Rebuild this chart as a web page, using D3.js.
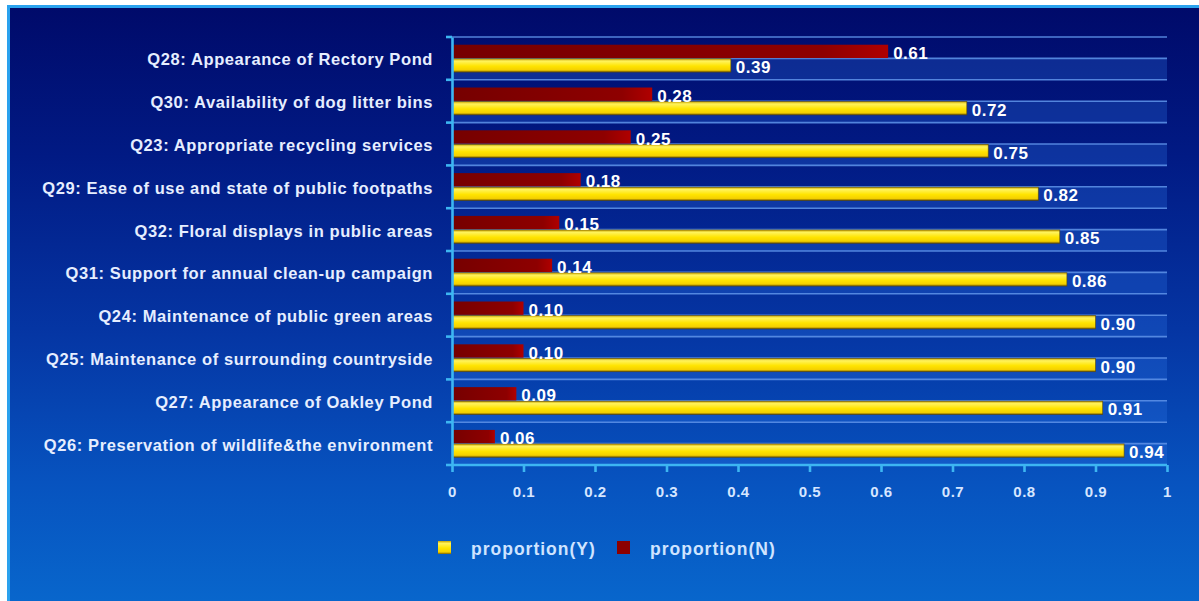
<!DOCTYPE html>
<html>
<head>
<meta charset="utf-8">
<script src="https://cdn.jsdelivr.net/npm/d3@7/dist/d3.min.js"></script>
<style>
  html, body { margin: 0; padding: 0; background: #ffffff; }
  svg { display: block; }
</style>
</head>
<body>
<svg id="chart" width="1199" height="601"></svg>
<script>
// Survey questions, top to bottom
const categories = [
  "Q28: Appearance of Rectory Pond",
  "Q30: Availability of dog litter bins",
  "Q23: Appropriate recycling services",
  "Q29: Ease of use and state of public footpaths",
  "Q32: Floral displays in public areas",
  "Q31: Support for annual clean-up campaign",
  "Q24: Maintenance of public green areas",
  "Q25: Maintenance of surrounding countryside",
  "Q27: Appearance of Oakley Pond",
  "Q26: Preservation of wildlife&the environment"
];
const proportionY = [0.39, 0.72, 0.75, 0.82, 0.85, 0.86, 0.90, 0.90, 0.91, 0.94];
const proportionN = [0.61, 0.28, 0.25, 0.18, 0.15, 0.14, 0.10, 0.10, 0.09, 0.06];
const xTicks = [0, 0.1, 0.2, 0.3, 0.4, 0.5, 0.6, 0.7, 0.8, 0.9, 1];
const seriesNames = ["proportion(Y)", "proportion(N)"];

const rows = categories.map((c, i) => ({ cat: c, Y: proportionY[i], N: proportionN[i] }));

const svg = d3.select("#chart");
const W = 1199, H = 601;
const font = "'Liberation Sans', Arial, sans-serif";

// ---- gradients ----
const defs = svg.append("defs");
const bg = defs.append("linearGradient").attr("id", "bg").attr("x1", 0).attr("y1", 0).attr("x2", 0).attr("y2", 1);
bg.append("stop").attr("offset", "0%").attr("stop-color", "#000a6a");
bg.append("stop").attr("offset", "25%").attr("stop-color", "#011a84");
bg.append("stop").attr("offset", "55%").attr("stop-color", "#0536a4");
bg.append("stop").attr("offset", "80%").attr("stop-color", "#0753bf");
bg.append("stop").attr("offset", "100%").attr("stop-color", "#0866cc");

const gy = defs.append("linearGradient").attr("id", "gy").attr("x1", 0).attr("y1", 0).attr("x2", 0).attr("y2", 1);
gy.append("stop").attr("offset", "0%").attr("stop-color", "#c9a400");
gy.append("stop").attr("offset", "18%").attr("stop-color", "#fff35c");
gy.append("stop").attr("offset", "55%").attr("stop-color", "#ffe400");
gy.append("stop").attr("offset", "85%").attr("stop-color", "#f4d000");
gy.append("stop").attr("offset", "100%").attr("stop-color", "#7d6200");

const gn = defs.append("linearGradient").attr("id", "gn").attr("x1", 0).attr("y1", 0).attr("x2", 1).attr("y2", 0);
gn.append("stop").attr("offset", "0%").attr("stop-color", "#760000");
gn.append("stop").attr("offset", "85%").attr("stop-color", "#8e0000");
gn.append("stop").attr("offset", "100%").attr("stop-color", "#b00000");

// ---- panel and frame ----
svg.append("rect").attr("x", 0).attr("y", 0).attr("width", W).attr("height", H).attr("fill", "#ffffff");
svg.append("rect").attr("x", 7).attr("y", 5).attr("width", W - 7).attr("height", H - 5).attr("fill", "#2aa2ee");
svg.append("rect").attr("x", 10).attr("y", 8).attr("width", W - 10).attr("height", H - 8).attr("fill", "url(#bg)");

// ---- scales ----
const margin = { left: 452, right: 1167, top: 37, bottom: 465 };
const x = d3.scaleLinear().domain([0, 1]).range([margin.left, margin.right]);
const y = d3.scaleBand().domain(categories).range([margin.top, margin.bottom]).padding(0);
const sub = d3.scaleBand().domain(["N", "Y"]).range([0, y.bandwidth()]).paddingInner(0.05).paddingOuter(0.55);

// ---- plot stripes and gridlines ----
const plot = svg.append("g");
plot.selectAll("rect.stripe").data(categories).join("rect")
  .attr("class", "stripe")
  .attr("x", x(0)).attr("width", x(1) - x(0))
  .attr("y", d => y(d) + y.bandwidth() / 2)
  .attr("height", y.bandwidth() / 2)
  .attr("fill", "#2f78e6").attr("fill-opacity", 0.28);

const gridYs = [];
categories.forEach(c => { gridYs.push(y(c)); gridYs.push(y(c) + y.bandwidth() / 2); });
plot.selectAll("line.grid").data(gridYs).join("line")
  .attr("class", "grid")
  .attr("x1", x(0)).attr("x2", x(1))
  .attr("y1", d => d).attr("y2", d => d)
  .attr("stroke", "#5b8fe6").attr("stroke-width", 1.6).attr("stroke-opacity", 0.9);

// ---- bars ----
const groups = svg.append("g").selectAll("g.row").data(rows).join("g")
  .attr("class", "row")
  .attr("transform", d => `translate(0,${y(d.cat)})`);

groups.append("rect")
  .attr("x", x(0)).attr("y", sub("N"))
  .attr("width", d => x(d.N) - x(0)).attr("height", sub.bandwidth())
  .attr("fill", "url(#gn)");

groups.append("rect")
  .attr("x", x(0)).attr("y", sub("Y"))
  .attr("width", d => x(d.Y) - x(0)).attr("height", sub.bandwidth())
  .attr("fill", "url(#gy)")
  .attr("stroke", "#5a4500").attr("stroke-width", 0.8).attr("stroke-opacity", 0.7);

// ---- value labels ----
const labelStyle = sel => sel
  .attr("font-family", font).attr("font-weight", "bold").attr("font-size", 17)
  .attr("letter-spacing", 0.5)
  .attr("fill", "#ffffff");

groups.append("text").call(labelStyle)
  .attr("x", d => x(d.N) + 5)
  .attr("y", sub("N") + sub.bandwidth() + 1)
  .text(d => d.N.toFixed(2));

groups.append("text").call(labelStyle)
  .attr("x", d => x(d.Y) + 5)
  .attr("y", sub("Y") + sub.bandwidth() + 1)
  .text(d => d.Y.toFixed(2));

// ---- axes ----
const axisColor = "#3db6f2";
const xAxis = svg.append("g")
  .attr("transform", `translate(0,${margin.bottom})`)
  .call(d3.axisBottom(x).tickValues(xTicks).tickSize(7).tickFormat(d3.format("")));
const yAxis = svg.append("g")
  .attr("transform", `translate(${margin.left},0)`)
  .call(d3.axisLeft(y).tickSize(0).tickFormat(""));

[xAxis, yAxis].forEach(a => {
  a.select(".domain").attr("stroke", axisColor).attr("stroke-width", 2.6);
  a.selectAll(".tick line").attr("stroke", axisColor).attr("stroke-width", 2.6);
});
xAxis.select(".domain").attr("d", `M${x(0)},0H${x(1)}`);
xAxis.selectAll(".tick text")
  .attr("font-family", font).attr("font-weight", "bold").attr("font-size", 15)
  .attr("letter-spacing", 0.5)
  .attr("fill", "#d6e6ff").attr("dy", "1.45em");

// band boundary ticks on the category axis
const bounds = categories.map(c => y(c)).concat([margin.bottom]);
yAxis.selectAll("line.bt").data(bounds).join("line")
  .attr("class", "bt")
  .attr("x1", -6).attr("x2", 0)
  .attr("y1", d => d).attr("y2", d => d)
  .attr("stroke", axisColor).attr("stroke-width", 2.6);

// category labels
svg.append("g").selectAll("text.cat").data(categories).join("text")
  .attr("class", "cat")
  .attr("x", 433)
  .attr("y", d => y(d) + y.bandwidth() / 2)
  .attr("dy", "0.42em")
  .attr("text-anchor", "end")
  .attr("font-family", font).attr("font-weight", "bold").attr("font-size", 16.5)
  .attr("letter-spacing", 0.6)
  .attr("fill", "#e6eeff")
  .text(d => d);

// ---- legend ----
const legend = svg.append("g").attr("transform", "translate(438,541)");
const legendColors = ["url(#gy)", "#8c0000"];
const legendX = [0, 179];
seriesNames.forEach((name, i) => {
  legend.append("rect")
    .attr("x", legendX[i]).attr("y", 0).attr("width", 13).attr("height", 13)
    .attr("fill", legendColors[i]);
  legend.append("text")
    .attr("x", legendX[i] + 33).attr("y", 7).attr("dy", "0.38em")
    .attr("font-family", font).attr("font-weight", "bold").attr("font-size", 17.5)
    .attr("letter-spacing", 1)
    .attr("fill", "#cfe4ff")
    .text(name);
});
</script>
</body>
</html>
